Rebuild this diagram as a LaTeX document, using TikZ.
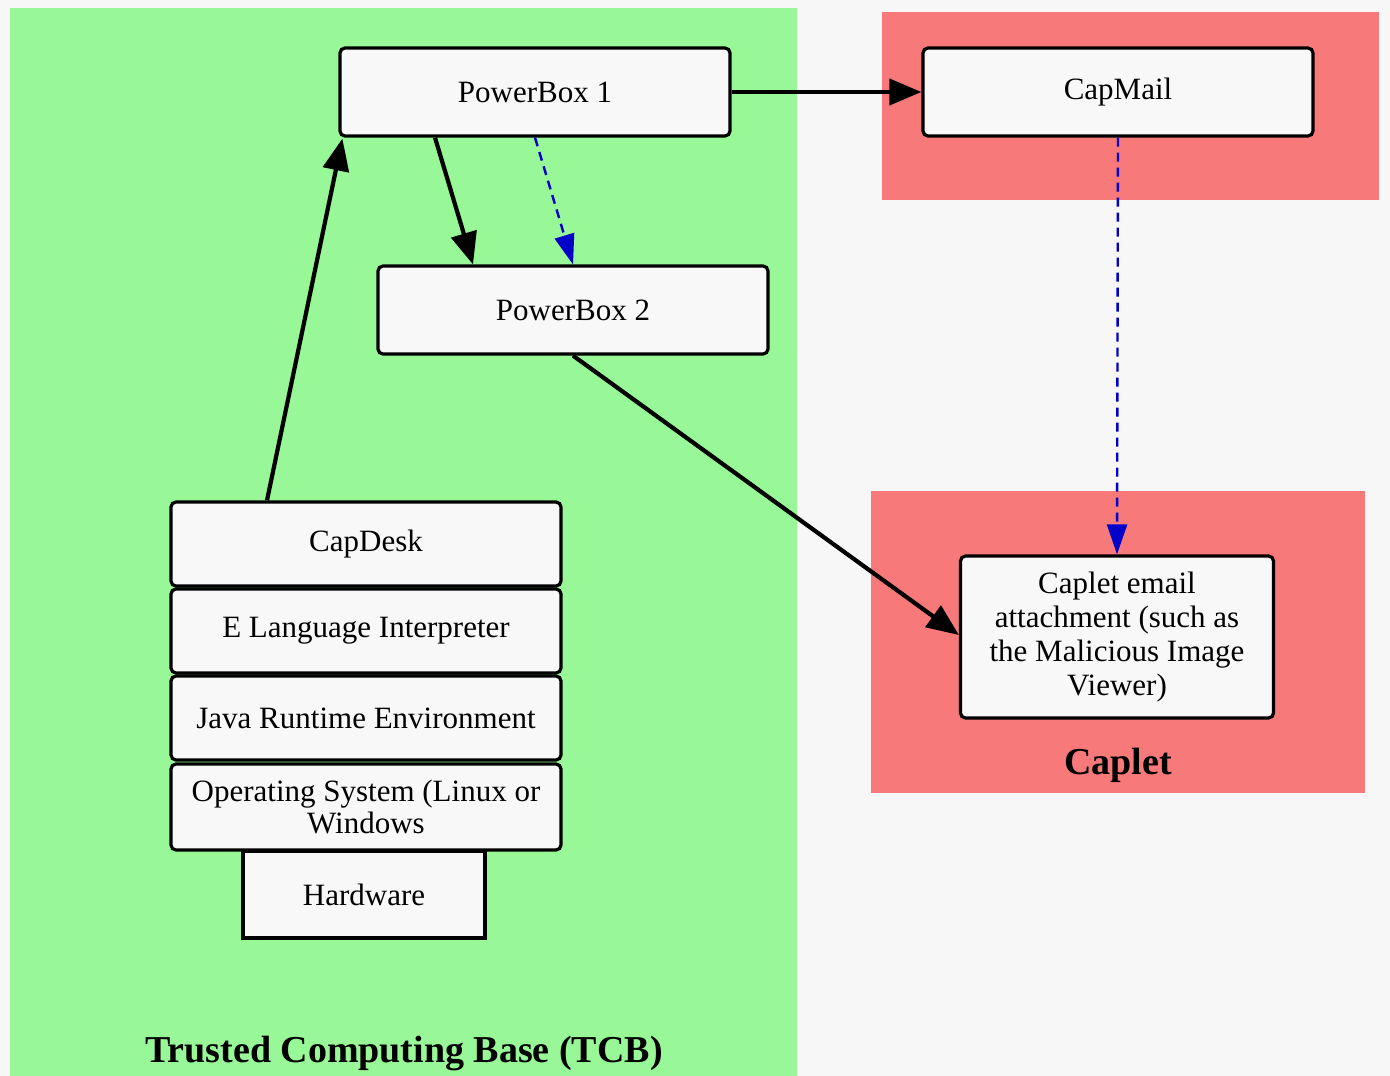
\documentclass[tikz,border=0pt]{standalone}
\usepackage{fontspec}
\setmainfont{Liberation Serif}
\usetikzlibrary{arrows.meta}
\definecolor{bgc}{RGB}{247,247,247}
\definecolor{tcbgreen}{RGB}{152,248,152}
\definecolor{capred}{RGB}{248,121,121}
\definecolor{boxfill}{RGB}{248,248,248}
\definecolor{edgeblue}{RGB}{0,0,200}
\tikzset{
  boxnode/.style={draw=black, line width=3.2pt, fill=boxfill, rounded corners=5pt,
    minimum width=390pt, minimum height=88pt, inner sep=0pt, align=center,
    font=\fontsize{31}{34}\selectfont},
  stacknode/.style={boxnode, minimum height=84pt},
  blkedge/.style={draw=black, line width=4.2pt, -{Triangle[length=32pt,width=26pt]}},
  blueedge/.style={draw=edgeblue, line width=2.4pt, dash pattern=on 9pt off 6pt,
    -{Triangle[length=30pt,width=20pt,fill=edgeblue]}},
  clusterlabel/.style={font=\fontsize{38}{42}\selectfont\bfseries, inner sep=0pt}
}
\begin{document}
\begin{tikzpicture}[x=1pt,y=-1pt]
\useasboundingbox (0,0) rectangle (1390,1076);
\fill[bgc] (0,0) rectangle (1390,1076);
\fill[tcbgreen] (10,8) rectangle (797,1076);
\fill[capred] (882,12) rectangle (1379,200);
\fill[capred] (871,491) rectangle (1365,793);

\node[clusterlabel] (tcblabel) at (404,1053) {Trusted Computing Base (TCB)};
\node[clusterlabel] (capletlabel) at (1118,765) {Caplet};

\node[boxnode] (pb1) at (535,92) {PowerBox 1};
\node[boxnode] (pb2) at (573,310) {PowerBox 2};
\node[boxnode] (capmail) at (1118,92) {\raisebox{-3pt}{CapMail}};
\node[boxnode, minimum width=313pt, minimum height=162pt] (caplet) at (1117,637)
  {Caplet email\\attachment (such as\\the Malicious Image\\Viewer)};

\node[stacknode] (capdesk) at (366,544) {\raisebox{-3pt}{CapDesk}};
\node[stacknode] (elang) at (366,631) {\raisebox{-3pt}{E Language Interpreter}};
\node[stacknode] (jre) at (366,718) {Java Runtime Environment};
\node[stacknode, minimum height=86pt, font=\fontsize{31}{32}\selectfont] (os) at (366,807)
  {Operating System (Linux or\\Windows};
\node[stacknode, rounded corners=0pt, minimum width=242pt, minimum height=87pt] (hw) at (364,894.5) {Hardware};

\draw[blkedge] ([xshift=-99pt]capdesk.north) -- ([xshift=4pt,yshift=-1pt]pb1.south west);
\draw[blkedge] ([xshift=-100pt]pb1.south) -- ([xshift=-100pt]pb2.north);
\draw[blueedge] (pb1.south) -- (pb2.north);
\draw[blkedge] (pb1.east) -- (capmail.west);
\draw[blueedge] (capmail.south) -- (caplet.north);
\draw[blkedge] (pb2.south) -- ([yshift=2pt]caplet.west);
\end{tikzpicture}
\end{document}
